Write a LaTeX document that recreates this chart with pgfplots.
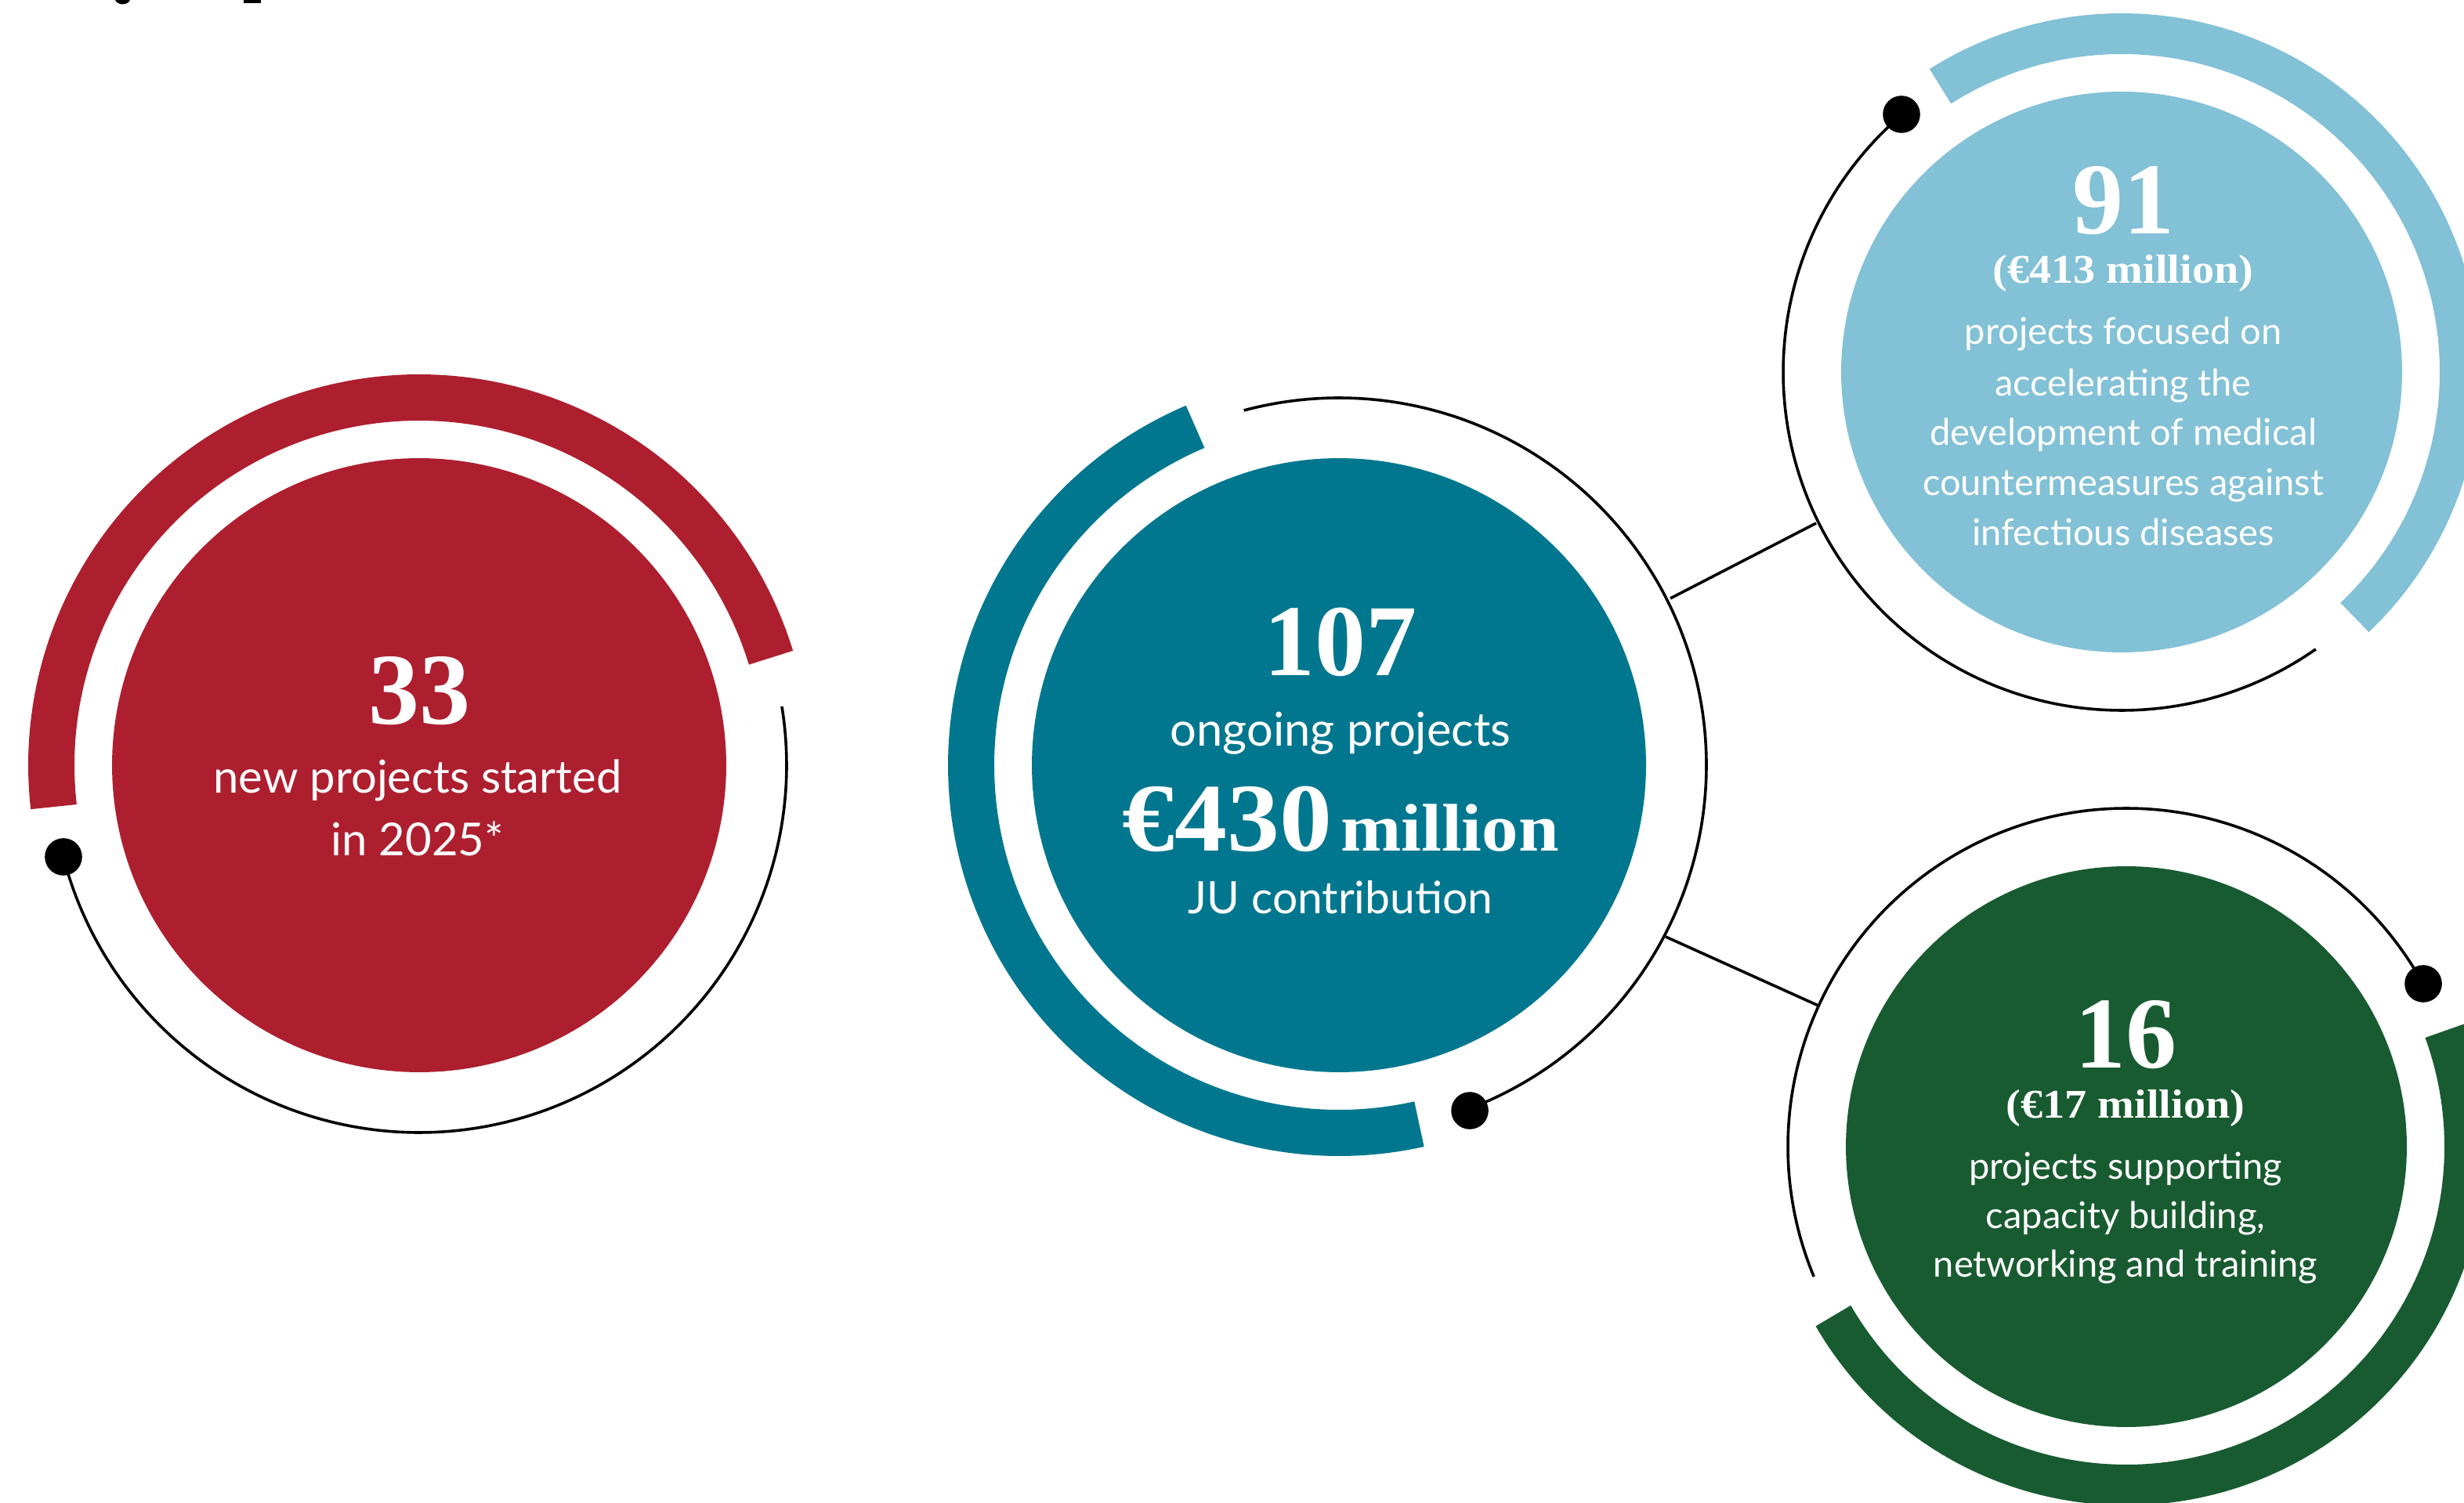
\documentclass[border=0pt]{standalone}
\usepackage{pgfplots}
\pgfplotsset{compat=1.18}
\usepackage{fontspec}
\setmainfont{Lato}
\newfontfamily\numfont{Liberation Serif}
\newfontfamily\widenum{Liberation Serif}[FakeStretch=1.08]
\definecolor{redc}{RGB}{173,31,47}
\definecolor{tealc}{RGB}{0,119,143}
\definecolor{bluec}{RGB}{130,193,214}
\definecolor{greenc}{RGB}{24,91,49}
% geometry helpers (circle centre x, centre y, radius, start angle, end angle)
\newcommand{\disc}[4]{\addplot[fill=#4, draw=none, domain=0:360, samples=241] ({#1+#3*cos(x)},{#2+#3*sin(x)});}
\newcommand{\band}[7]{\addplot[draw=#6, line width=#7, domain=#4:#5, samples=160] ({#1+#3*cos(x)},{#2+#3*sin(x)});}
\newcommand{\thin}[5]{\addplot[draw=black, line width=0.9pt, domain=#4:#5, samples=160] ({#1+#3*cos(x)},{#2+#3*sin(x)});}
\newcommand{\fs}[1]{\fontsize{#1}{#1}\selectfont}
\begin{document}
\begin{tikzpicture}
\useasboundingbox (0,0) rectangle (786.25pt,479.5pt);
\begin{axis}[x=0.25pt, y=0.25pt, xmin=0, xmax=3145, ymin=0, ymax=1918,
  hide axis, clip=true, anchor=origin, at={(0,0)}]
% cut-off remnants of a heading at the top edge
\addplot[fill=black, draw=none] coordinates {(147,1918) (149,1915) (153,1913) (156,1912.5) (160,1913) (164,1915) (166,1918)};
\addplot[fill=black, draw=none] coordinates {(311,1918) (311,1914) (333,1914) (333,1918)};
% red
\disc{535}{941}{392}{redc}
\band{535}{941}{469.5}{17}{186.5}{redc}{14.75pt}
\thin{535}{941}{469}{194.5}{369.2}
% teal
\disc{1709}{941}{392}{tealc}
\band{1709}{941}{469.5}{113}{282.6}{tealc}{14.75pt}
\thin{1709}{941}{469}{-69.3}{105}
% light blue
\disc{2708}{1443}{358}{bluec}
\band{2708}{1443}{432}{-46.5}{122.4}{bluec}{13pt}
\thin{2708}{1443}{432}{130.5}{305}
% green
\disc{2714}{454}{358}{greenc}
\band{2714}{454}{432}{210}{380}{greenc}{13pt}
\thin{2714}{454}{432}{28.8}{202.6}
% connectors
\addplot[black, line width=0.9pt] coordinates {(2132,1154) (2318,1250)};
\addplot[black, line width=0.9pt] coordinates {(2126,722) (2321,634)};
% dots
\addplot[only marks, mark=*, mark size=5.75pt, black] coordinates {(81,824) (1876,500) (2427,1772) (3093,662)};
% red text
\node[anchor=base, white, font=\numfont\bfseries\fs{32.5pt}] at (axis cs:535,993) {33};
\node[anchor=base, white, font=\fs{14.5pt}] at (axis cs:533,905) {new projects started};
\node[anchor=base, white, font=\fs{14.5pt}] at (axis cs:533,825) {in 2025*};
% teal text
\node[anchor=base, white, font=\numfont\bfseries\fs{32.5pt}] at (axis cs:1711,1055) {107};
\node[anchor=base, white, font=\fs{14.9pt}] at (axis cs:1711,965) {ongoing projects};
\node[anchor=base, white, font=\widenum\bfseries] at (axis cs:1711,831) {{\fs{31pt}€430} {\fs{21.5pt}million}};
\node[anchor=base, white, font=\fs{14.25pt}] at (axis cs:1711,751) {JU contribution};
% blue text
\node[anchor=base, white, font=\numfont\bfseries\fs{32.5pt}] at (axis cs:2710,1619) {91};
\node[anchor=base, white, font=\widenum\bfseries\fs{13pt}] at (axis cs:2710,1556) {(€413 million)};
\node[anchor=base, white, font=\fs{11.75pt}] at (axis cs:2710,1478) {projects focused on};
\node[anchor=base, white, font=\fs{11.75pt}] at (axis cs:2710,1412) {accelerating the};
\node[anchor=base, white, font=\fs{11.75pt}] at (axis cs:2710,1349) {development of medical};
\node[anchor=base, white, font=\fs{11.75pt}] at (axis cs:2710,1285) {countermeasures against};
\node[anchor=base, white, font=\fs{11.75pt}] at (axis cs:2710,1221) {infectious diseases};
% green text
\node[anchor=base, white, font=\numfont\bfseries\fs{32.5pt}] at (axis cs:2713,555) {16};
\node[anchor=base, white, font=\widenum\bfseries\fs{13pt}] at (axis cs:2713,491) {(€17 million)};
\node[anchor=base, white, font=\fs{11.75pt}] at (axis cs:2713,413) {projects supporting};
\node[anchor=base, white, font=\fs{11.75pt}] at (axis cs:2713,350) {capacity building,};
\node[anchor=base, white, font=\fs{11.75pt}] at (axis cs:2713,288) {networking and training};
\end{axis}
\end{tikzpicture}
\end{document}
